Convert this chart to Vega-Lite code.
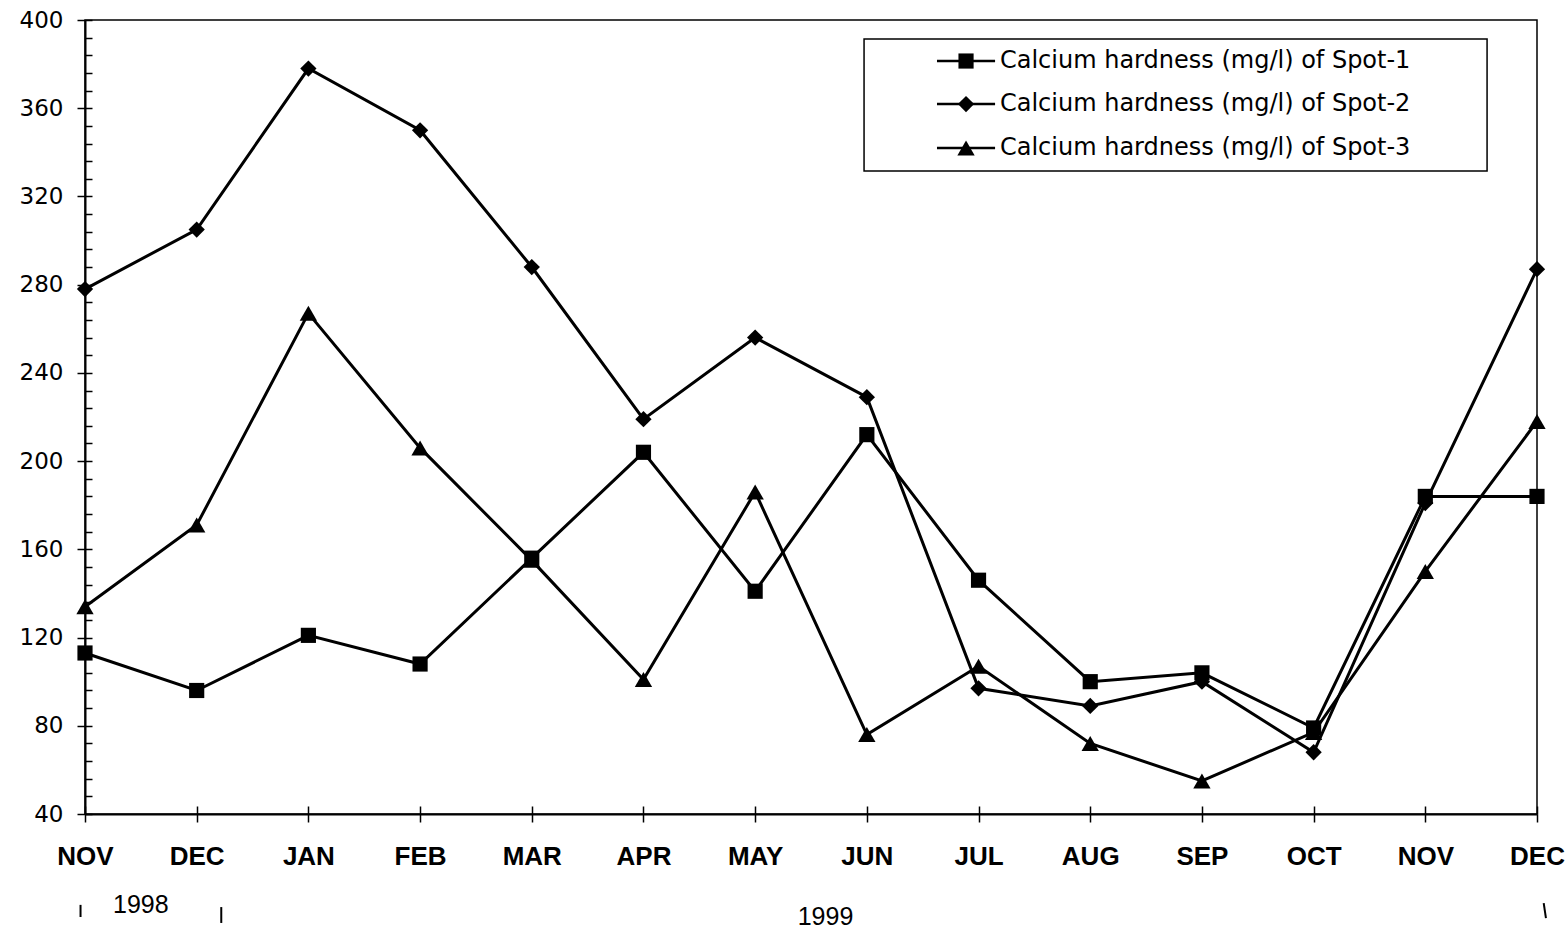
{
  "$schema": "https://vega.github.io/schema/vega-lite/v6.json",
  "autosize": "none",
  "width": 1452,
  "height": 794,
  "padding": {"left": 85, "top": 20, "right": 31, "bottom": 118},
  "background": "white",
  "config": {
    "view": {"stroke": "black", "strokeWidth": 1.5},
    "axis": {"domainColor": "black", "domainWidth": 2, "tickColor": "black", "tickWidth": 1.5, "grid": false, "labelColor": "black", "title": null}
  },
  "datasets": {
    "obs": [
      {"idx": 0, "month": "NOV 1998", "series": "Spot-1", "value": 113},
      {"idx": 1, "month": "DEC 1998", "series": "Spot-1", "value": 96},
      {"idx": 2, "month": "JAN 1999", "series": "Spot-1", "value": 121},
      {"idx": 3, "month": "FEB 1999", "series": "Spot-1", "value": 108},
      {"idx": 4, "month": "MAR 1999", "series": "Spot-1", "value": 156},
      {"idx": 5, "month": "APR 1999", "series": "Spot-1", "value": 204},
      {"idx": 6, "month": "MAY 1999", "series": "Spot-1", "value": 141},
      {"idx": 7, "month": "JUN 1999", "series": "Spot-1", "value": 212},
      {"idx": 8, "month": "JUL 1999", "series": "Spot-1", "value": 146},
      {"idx": 9, "month": "AUG 1999", "series": "Spot-1", "value": 100},
      {"idx": 10, "month": "SEP 1999", "series": "Spot-1", "value": 104},
      {"idx": 11, "month": "OCT 1999", "series": "Spot-1", "value": 79},
      {"idx": 12, "month": "NOV 1999", "series": "Spot-1", "value": 184},
      {"idx": 13, "month": "DEC 1999", "series": "Spot-1", "value": 184},
      {"idx": 0, "month": "NOV 1998", "series": "Spot-2", "value": 278},
      {"idx": 1, "month": "DEC 1998", "series": "Spot-2", "value": 305},
      {"idx": 2, "month": "JAN 1999", "series": "Spot-2", "value": 378},
      {"idx": 3, "month": "FEB 1999", "series": "Spot-2", "value": 350},
      {"idx": 4, "month": "MAR 1999", "series": "Spot-2", "value": 288},
      {"idx": 5, "month": "APR 1999", "series": "Spot-2", "value": 219},
      {"idx": 6, "month": "MAY 1999", "series": "Spot-2", "value": 256},
      {"idx": 7, "month": "JUN 1999", "series": "Spot-2", "value": 229},
      {"idx": 8, "month": "JUL 1999", "series": "Spot-2", "value": 97},
      {"idx": 9, "month": "AUG 1999", "series": "Spot-2", "value": 89},
      {"idx": 10, "month": "SEP 1999", "series": "Spot-2", "value": 100},
      {"idx": 11, "month": "OCT 1999", "series": "Spot-2", "value": 68},
      {"idx": 12, "month": "NOV 1999", "series": "Spot-2", "value": 181},
      {"idx": 13, "month": "DEC 1999", "series": "Spot-2", "value": 287},
      {"idx": 0, "month": "NOV 1998", "series": "Spot-3", "value": 134},
      {"idx": 1, "month": "DEC 1998", "series": "Spot-3", "value": 171},
      {"idx": 2, "month": "JAN 1999", "series": "Spot-3", "value": 267},
      {"idx": 3, "month": "FEB 1999", "series": "Spot-3", "value": 206},
      {"idx": 4, "month": "MAR 1999", "series": "Spot-3", "value": 155},
      {"idx": 5, "month": "APR 1999", "series": "Spot-3", "value": 101},
      {"idx": 6, "month": "MAY 1999", "series": "Spot-3", "value": 186},
      {"idx": 7, "month": "JUN 1999", "series": "Spot-3", "value": 76},
      {"idx": 8, "month": "JUL 1999", "series": "Spot-3", "value": 107},
      {"idx": 9, "month": "AUG 1999", "series": "Spot-3", "value": 72},
      {"idx": 10, "month": "SEP 1999", "series": "Spot-3", "value": 55},
      {"idx": 11, "month": "OCT 1999", "series": "Spot-3", "value": 77},
      {"idx": 12, "month": "NOV 1999", "series": "Spot-3", "value": 150},
      {"idx": 13, "month": "DEC 1999", "series": "Spot-3", "value": 218}
    ],
    "legendRows": [
      {"series": "Spot-1", "label": "Calcium hardness (mg/l) of Spot-1", "row": 381.4},
      {"series": "Spot-2", "label": "Calcium hardness (mg/l) of Spot-2", "row": 361.9},
      {"series": "Spot-3", "label": "Calcium hardness (mg/l) of Spot-3", "row": 342.0}
    ],
    "years": [
      {"year": "1998", "mid": 0.5, "level": -1.2},
      {"year": "1999", "mid": 6.63, "level": -6.7}
    ],
    "bounds": [
      {"b1": -0.04, "b2": -0.04, "top": -1.2, "bot": -6.7},
      {"b1": 1.22, "b2": 1.22, "top": -2.2, "bot": -9.4},
      {"b1": 13.06, "b2": 13.08, "top": -0.4, "bot": -7.2}
    ]
  },
  "layer": [
    {
      "data": {"values": [{}]},
      "mark": {"type": "rect", "fill": "white", "stroke": "black", "strokeWidth": 1.5},
      "encoding": {
        "x": {"datum": 6.975, "type": "quantitative", "scale": {"domain": [0, 13], "nice": false, "zero": false}, "axis": null},
        "x2": {"datum": 12.553},
        "y": {"datum": 391.4, "type": "quantitative", "scale": {"domain": [40, 400], "nice": false, "zero": false}, "axis": null},
        "y2": {"datum": 331.5}
      }
    },
    {
      "data": {"name": "obs"},
      "mark": {"type": "line", "color": "black", "strokeWidth": 3},
      "encoding": {
        "x": {"field": "idx", "type": "quantitative",
              "axis": {"values": [0,1,2,3,4,5,6,7,8,9,10,11,12,13], "tickSize": 8, "labelPadding": 21,
                       "labelFont": "Liberation Sans", "labelFontWeight": "bold", "labelFontSize": 26,
                       "labelExpr": "['NOV','DEC','JAN','FEB','MAR','APR','MAY','JUN','JUL','AUG','SEP','OCT','NOV','DEC'][datum.value]",
                       "labelFlush": false, "labelOverlap": false, "orient": "bottom"}},
        "y": {"field": "value", "type": "quantitative",
              "axis": {"values": [40,80,120,160,200,240,280,320,360,400], "tickSize": 8, "labelPadding": 14,
                       "labelFont": "DejaVu Sans", "labelFontSize": 23, "orient": "left", "labelFlush": false, "labelOverlap": false}},
        "detail": {"field": "series"}
      }
    },
    {
      "data": {"name": "obs"},
      "mark": {"type": "point", "filled": true, "color": "black", "opacity": 1},
      "encoding": {
        "x": {"field": "idx", "type": "quantitative",
              "axis": {"values": [0,1,2,3,4,5,6,7,8,9,10,11,12,13], "tickSize": -8, "labels": false, "domain": false, "orient": "bottom"}},
        "y": {"field": "value", "type": "quantitative",
              "axis": {"values": [40,48,56,64,72,80,88,96,104,112,120,128,136,144,152,160,168,176,184,192,200,208,216,224,232,240,248,256,264,272,280,288,296,304,312,320,328,336,344,352,360,368,376,384,392,400], "tickSize": -7, "labels": false, "domain": false, "orient": "left"}},
        "shape": {"field": "series", "type": "nominal", "scale": {"domain": ["Spot-1","Spot-2","Spot-3"], "range": ["square","diamond","triangle-up"]}, "legend": null},
        "size": {"field": "series", "type": "nominal", "scale": {"domain": ["Spot-1","Spot-2","Spot-3"], "range": [230, 300, 280]}, "legend": null}
      }
    },
    {
      "data": {"name": "legendRows"},
      "mark": {"type": "rule", "color": "black", "strokeWidth": 2.5},
      "encoding": {
        "x": {"datum": 7.628, "type": "quantitative", "axis": null},
        "x2": {"datum": 8.148},
        "y": {"field": "row", "type": "quantitative", "axis": null}
      }
    },
    {
      "data": {"name": "legendRows"},
      "mark": {"type": "point", "filled": true, "color": "black", "opacity": 1},
      "encoding": {
        "x": {"datum": 7.888, "type": "quantitative", "axis": null},
        "y": {"field": "row", "type": "quantitative", "axis": null},
        "shape": {"field": "series", "type": "nominal", "legend": null},
        "size": {"field": "series", "type": "nominal", "legend": null}
      }
    },
    {
      "data": {"name": "legendRows"},
      "mark": {"type": "text", "font": "DejaVu Sans", "fontSize": 24, "color": "black", "baseline": "middle", "align": "left"},
      "encoding": {
        "x": {"datum": 8.192, "type": "quantitative", "axis": null},
        "y": {"field": "row", "type": "quantitative", "axis": null},
        "text": {"field": "label"}
      }
    },
    {
      "data": {"name": "years"},
      "mark": {"type": "text", "font": "Liberation Sans", "fontSize": 25, "color": "black", "baseline": "middle", "align": "center"},
      "encoding": {
        "x": {"field": "mid", "type": "quantitative", "axis": null},
        "y": {"field": "level", "type": "quantitative", "axis": null},
        "text": {"field": "year"}
      }
    },
    {
      "data": {"name": "bounds"},
      "mark": {"type": "rule", "color": "black", "strokeWidth": 2},
      "encoding": {
        "x": {"field": "b1", "type": "quantitative", "axis": null},
        "x2": {"field": "b2"},
        "y": {"field": "top", "type": "quantitative", "axis": null},
        "y2": {"field": "bot"}
      }
    }
  ],
  "resolve": {"axis": {"x": "independent", "y": "independent"}}
}
